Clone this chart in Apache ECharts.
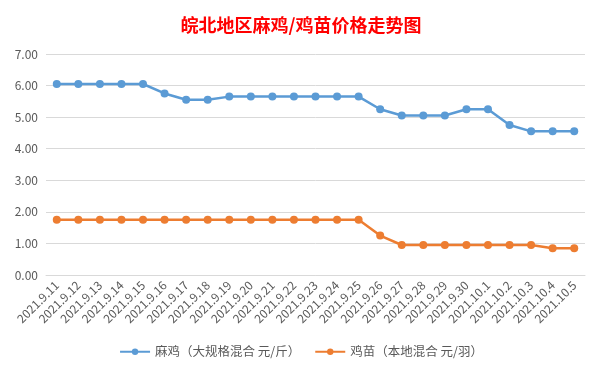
<!DOCTYPE html>
<html><head><meta charset="utf-8">
<script src="https://cdn.jsdelivr.net/npm/echarts@6/dist/echarts.min.js"></script>
<style>html,body{margin:0;padding:0;background:#fff}#c{width:602px;height:375px}</style>
</head><body><div id="c"></div>
<script>
const categories = ['2021.9.11','2021.9.12','2021.9.13','2021.9.14','2021.9.15','2021.9.16','2021.9.17','2021.9.18','2021.9.19','2021.9.20','2021.9.21','2021.9.22','2021.9.23','2021.9.24','2021.9.25','2021.9.26','2021.9.27','2021.9.28','2021.9.29','2021.9.30','2021.10.1','2021.10.2','2021.10.3','2021.10.4','2021.10.5'];
const maji = [6.05,6.05,6.05,6.05,6.05,5.75,5.55,5.55,5.65,5.65,5.65,5.65,5.65,5.65,5.65,5.25,5.05,5.05,5.05,5.25,5.25,4.75,4.55,4.55,4.55];
const jimiao = [1.75,1.75,1.75,1.75,1.75,1.75,1.75,1.75,1.75,1.75,1.75,1.75,1.75,1.75,1.75,1.25,0.95,0.95,0.95,0.95,0.95,0.95,0.95,0.85,0.85];
const seriesNames = ['麻鸡（大规格混合 元/斤）','鸡苗（本地混合 元/羽）'];
const chart = echarts.init(document.getElementById('c'));
const font = '"Microsoft YaHei","Noto Sans CJK SC",sans-serif';
chart.setOption({
  animation:false,
  title:{text:'皖北地区麻鸡/鸡苗价格走势图',left:'center',top:11,
    textStyle:{color:'#ff0000',fontSize:18,fontWeight:'bold',fontFamily:'"Noto Sans CJK SC",serif'}},
  grid:{left:46,right:17,top:54,bottom:100},
  legend:{bottom:12,itemWidth:30,itemHeight:8,itemGap:14,
    textStyle:{color:'#595959',fontSize:12.5,fontFamily:font},
    data:seriesNames},
  xAxis:{type:'category',data:categories,boundaryGap:true,
    axisLine:{show:true,lineStyle:{color:'#d9d9d9'}},axisTick:{show:false},
    axisLabel:{rotate:45,interval:0,color:'#595959',fontSize:12,fontFamily:font,margin:8}},
  yAxis:{type:'value',min:0,max:7,interval:1,
    axisLine:{show:false},axisTick:{show:false},
    splitLine:{lineStyle:{color:'#d9d9d9'}},
    axisLabel:{formatter:v=>v.toFixed(2),color:'#595959',fontSize:12,fontFamily:font,margin:8}},
  series:[
    {name:seriesNames[0],type:'line',data:maji,symbol:'circle',symbolSize:8,
      itemStyle:{color:'#5b9bd5'},lineStyle:{width:2.5,color:'#5b9bd5'}},
    {name:seriesNames[1],type:'line',data:jimiao,symbol:'circle',symbolSize:8,
      itemStyle:{color:'#ed7d31'},lineStyle:{width:2.5,color:'#ed7d31'}}
  ]
});
</script></body></html>
